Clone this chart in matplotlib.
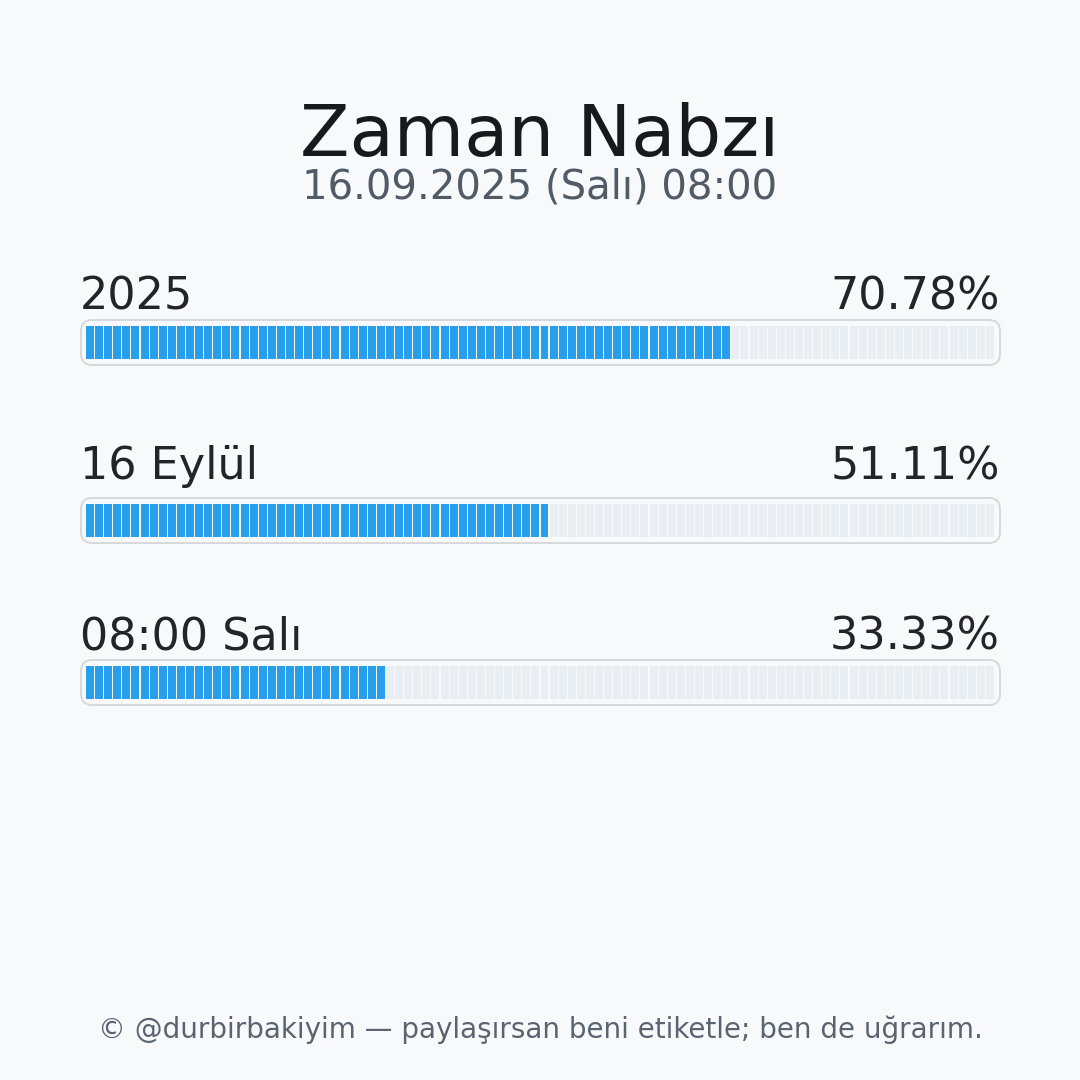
#!/usr/bin/env python3
"""Zaman Nabzı: segmented progress bars for year, month and day."""

import matplotlib

matplotlib.use("Agg")
import matplotlib.pyplot as plt
import numpy as np
from matplotlib.patches import FancyBboxPatch

TITLE = "Zaman Nabzı"
SUBTITLE = "16.09.2025 (Salı) 08:00"
FOOTER = "© @durbirbakiyim — paylaşırsan beni etiketle; ben de uğrarım."

labels = ["2025", "16 Eylül", "08:00 Salı"]
percents = [70.78, 51.11, 33.33]
n_segments = 100

BG = "#f8f9fb"
BLUE = "#279fed"
EMPTY = "#e9eef2"
BORDER = "#d7d9dc"

# layout in pixels (figure is 1080x1080, y grows downwards)
label_baselines = [309, 479, 649]
bar_tops = [320, 498, 660]
box_left, box_right = 81, 1000
box_h = 45
seg_left, seg_right = 86, 995
seg_inset = 6
seg_gap = 1.1


def draw_bar(ax, top, baseline, label, pct):
    box = FancyBboxPatch(
        (box_left, top), box_right - box_left, box_h,
        boxstyle="round,pad=0,rounding_size=11",
        facecolor=BG, edgecolor=BORDER, linewidth=1.4, zorder=1,
    )
    ax.add_patch(box)

    pitch = (seg_right - seg_left) / n_segments
    xs = seg_left + np.arange(n_segments) * pitch
    filled = int(round(pct))
    colors = [BLUE if i < filled else EMPTY for i in range(n_segments)]
    ax.bar(xs, box_h - 2 * seg_inset, width=pitch - seg_gap,
           bottom=top + seg_inset, align="edge", color=colors,
           linewidth=0, zorder=2)

    ax.text(box_left - 1, baseline, label, fontsize=32, color="#212529",
            ha="left", va="baseline")
    ax.text(box_right, baseline, f"{pct:.2f}%", fontsize=32, color="#212529",
            ha="right", va="baseline")


fig = plt.figure(figsize=(10.8, 10.8), dpi=100, facecolor=BG)
ax = fig.add_axes([0, 0, 1, 1])
ax.set_facecolor(BG)
ax.set_xlim(0, 1080)
ax.set_ylim(1080, 0)
ax.axis("off")

ax.text(540, 156, TITLE, fontsize=52, color="#16191d", ha="center", va="baseline")
ax.text(540, 199, SUBTITLE, fontsize=29, color="#505b66", ha="center", va="baseline")

for top, baseline, label, pct in zip(bar_tops, label_baselines, labels, percents):
    draw_bar(ax, top, baseline, label, pct)

ax.text(540, 1038, FOOTER, fontsize=20, color="#5a6470", ha="center", va="baseline")

fig.savefig("out.png", dpi=100, facecolor=BG)
